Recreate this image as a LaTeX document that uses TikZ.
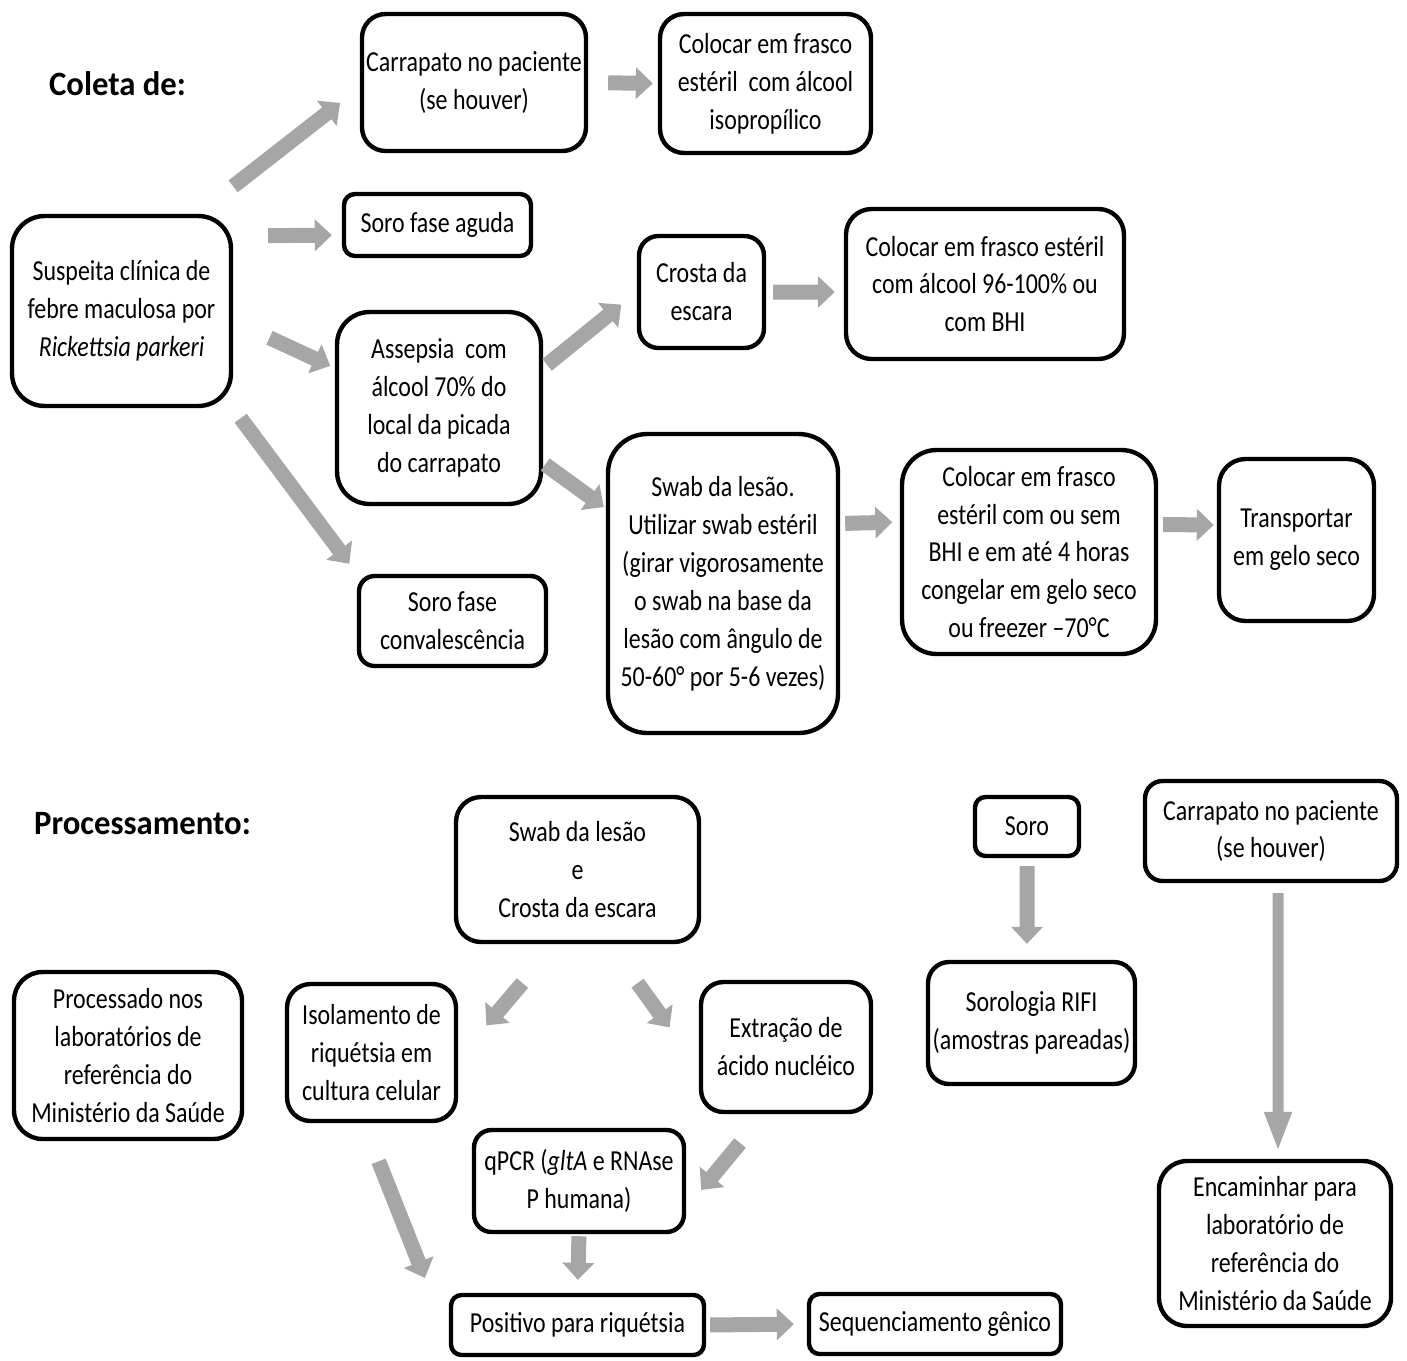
\documentclass[tikz,border=0pt]{standalone}
\usepackage{fontspec}
\setmainfont{Carlito}[FakeStretch=0.825]
\newfontfamily\headfont{Carlito}[FakeStretch=0.96]
\usepackage{tikz}
\usetikzlibrary{arrows.meta}
\definecolor{arrgray}{HTML}{A6A6A6}
\tikzset{
  box/.style={draw=black, line width=2.5pt, rounded corners=0.45cm, align=center, inner sep=2pt, font=\fontsize{16.5}{21.6}\selectfont},
  head/.style={anchor=base, font=\headfont\fontsize{19.4}{23}\selectfont\bfseries},
  arr/.style={draw=arrgray, line width=0.3cm, -{Triangle[length=0.34cm, width=0.62cm]}}
}

\begin{document}
\begin{tikzpicture}[x=0.02cm, y=-0.02cm]
  \useasboundingbox (0,0) rectangle (1407,1360);

  % coleta
  \node[head] (COL) at (117.5,95) {Coleta de:};
  \node[box, minimum width=4.48cm, minimum height=2.74cm, rounded corners=0.47cm] (CAR1) at (474,82.5) {Carrapato no paciente \\ (se houver)};
  \node[box, minimum width=4.22cm, minimum height=2.78cm, rounded corners=0.48cm] (COL1) at (765.5,83.5) {Colocar em frasco \\ estéril~ com álcool \\ isopropílico};
  \node[box, minimum width=4.38cm, minimum height=3.80cm, rounded corners=0.65cm] (SUS) at (121.5,311) {Suspeita clínica de \\ febre maculosa por \\ \textit{Rickettsia parkeri}};
  \node[box, minimum width=3.74cm, minimum height=1.24cm, rounded corners=0.22cm] (SORO1) at (437.5,225) {Soro fase aguda};
  \node[box, minimum width=4.08cm, minimum height=3.84cm, rounded corners=0.65cm] (ASS) at (439,408) {Assepsia~ com \\ álcool 70\% do \\ local da picada \\ do carrapato};
  \node[box, minimum width=3.74cm, minimum height=1.80cm, rounded corners=0.31cm] (SORO2) at (452.5,621) {Soro fase \\ convalescência};
  \node[box, minimum width=2.50cm, minimum height=2.24cm, rounded corners=0.39cm] (CRO) at (701.5,292) {Crosta da \\ escara};
  \node[box, minimum width=5.56cm, minimum height=3.00cm, rounded corners=0.51cm] (COL2) at (985,284) {Colocar em frasco estéril \\ com álcool 96-100\% ou \\ com BHI};
  \node[box, minimum width=4.60cm, minimum height=5.98cm, rounded corners=0.78cm] (SWAB) at (723,583.5) {Swab da lesão. \\ Utilizar swab estéril \\ (girar vigorosamente \\ o swab na base da \\ lesão com ângulo de \\ 50-60° por 5-6 vezes)};
  \node[box, minimum width=5.08cm, minimum height=4.08cm, rounded corners=0.69cm] (COL3) at (1029,552) {Colocar em frasco \\ estéril com ou sem \\ BHI e em até 4 horas \\ congelar em gelo seco \\ ou freezer –70°C};
  \node[box, minimum width=3.10cm, minimum height=3.24cm, rounded corners=0.53cm] (TRANS) at (1296.5,540) {Transportar \\ em gelo seco};

  \draw[arr, shorten >=0.5cm] ([yshift=0.55cm]SUS.north east) -- ([yshift=-0.1cm]CAR1.west);
  \draw[arr, shorten <=0.7cm, shorten >=0.2cm] ([yshift=1.5cm]SUS.east) -- ([yshift=-0.2cm]SORO1.west);
  \draw[arr, shorten <=0.8cm, shorten >=0.1cm] ([yshift=-0.2cm]SUS.east) -- ([yshift=0.8cm]ASS.west);
  \draw[arr, shorten <=0.25cm, shorten >=0.25cm] (SUS.south east) -- (SORO2.north west);
  \draw[arr, shorten <=0.4cm, shorten >=0.1cm] (CAR1.east) -- (COL1.west);
  \draw[arr, shorten <=0.1cm, shorten >=0.4cm] ([yshift=0.8cm]ASS.east) -- (CRO.west);
  \draw[arr, shorten <=0.14cm, shorten >=0.18cm] (CRO.east) -- ([yshift=-0.16cm]COL2.west);
  \draw[arr, shorten <=0.05cm, shorten >=0.05cm] ([yshift=-1.1cm]ASS.east) -- ([yshift=1.5cm]SWAB.west);
  \draw[arr, shorten <=0.1cm, shorten >=0.15cm] ([yshift=1.2cm]SWAB.east) -- ([yshift=0.6cm]COL3.west);
  \draw[arr, shorten <=0.1cm, shorten >=0.06cm] ([yshift=0.55cm]COL3.east) -- ([yshift=0.3cm]TRANS.west);

  % processamento
  \node[head] (PRO) at (142.5,834) {Processamento:};
  \node[box, minimum width=4.86cm, minimum height=2.90cm, rounded corners=0.5cm] (SWAB2) at (577.5,869.5) {Swab da lesão \\ e \\ Crosta da escara};
  \node[box, minimum width=2.08cm, minimum height=1.18cm, rounded corners=0.21cm] (SORO3) at (1027,826.5) {Soro};
  \node[box, minimum width=5.04cm, minimum height=2.00cm, rounded corners=0.35cm] (CAR2) at (1271,831) {Carrapato no paciente \\ (se houver)};
  \node[box, minimum width=4.14cm, minimum height=2.44cm, rounded corners=0.42cm] (SORO4) at (1031.5,1023) {Sorologia RIFI \\ (amostras pareadas)};
  \node[box, minimum width=4.64cm, minimum height=3.30cm, rounded corners=0.56cm] (ENC) at (1275,1243.5) {Encaminhar para \\ laboratório de \\ referência do \\ Ministério da Saúde};
  \node[box, minimum width=4.56cm, minimum height=3.34cm, rounded corners=0.57cm] (PROC) at (128,1055.5) {Processado nos \\ laboratórios de \\ referência do \\ Ministério da Saúde};
  \node[box, minimum width=3.38cm, minimum height=2.74cm, rounded corners=0.47cm] (ISO) at (371.5,1052.5) {Isolamento de \\ riquétsia em \\ cultura celular};
  \node[box, minimum width=3.40cm, minimum height=2.60cm, rounded corners=0.45cm] (EXT) at (786,1047) {Extração de \\ ácido nucléico};
  \node[box, minimum width=4.20cm, minimum height=2.04cm, rounded corners=0.35cm] (QPCR) at (579,1181) {qPCR (\textit{gltA} e RNAse \\ P humana)};
  \node[box, minimum width=5.06cm, minimum height=1.20cm, rounded corners=0.21cm] (POS) at (577.5,1325) {Positivo para riquétsia};
  \node[box, minimum width=5.04cm, minimum height=1.20cm, rounded corners=0.21cm] (SEQ) at (935,1324) {Sequenciamento gênico};

  \draw[arr, shorten <=0.16cm, shorten >=0.32cm] (SORO3.south) -- ([xshift=-0.09cm]SORO4.north);
  \draw[arr, line width=0.22cm, -{Triangle[length=0.8cm, width=0.5cm]}, shorten <=0.2cm, shorten >=0.14cm] ([xshift=0.14cm]CAR2.south) -- ([xshift=0.06cm]ENC.north);
  \draw[arr, shorten <=1.02cm, shorten >=0.87cm] ([xshift=-0.44cm]SWAB2.south) -- ([yshift=-0.12cm]ISO.east);
  \draw[arr, shorten <=0.96cm, shorten >=1.0cm] ([xshift=0.64cm]SWAB2.south) -- ([yshift=-0.42cm]EXT.west);
  \draw[arr, shorten <=0.75cm, shorten >=0.47cm] ([xshift=-0.44cm]EXT.south) -- ([yshift=-0.54cm]QPCR.east);
  \draw[arr, shorten <=0.82cm, shorten >=0.32cm] ([xshift=-0.16cm]ISO.south) -- ([xshift=-0.36cm]POS.north west);
  \draw[arr, shorten <=0.04cm, shorten >=0.26cm] (QPCR.south) -- (POS.north);
  \draw[arr, shorten <=0.08cm, shorten >=0.26cm] (POS.east) -- (SEQ.west);
\end{tikzpicture}
\end{document}
